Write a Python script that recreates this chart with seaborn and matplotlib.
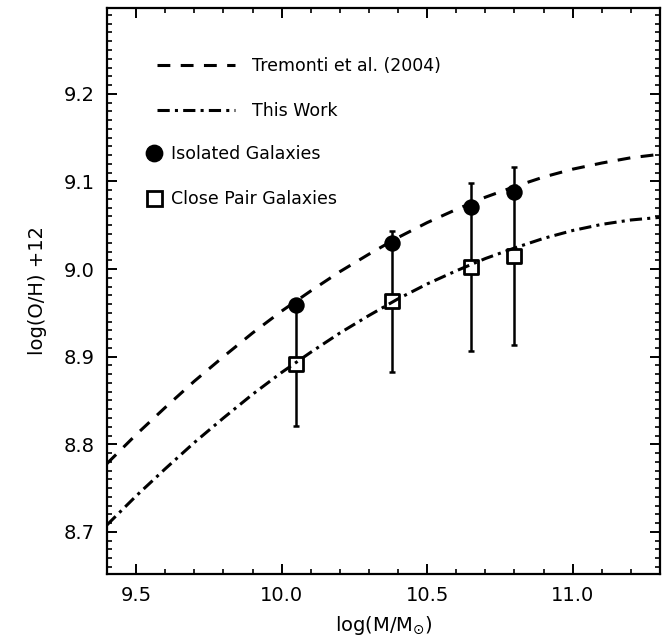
import numpy as np
import pandas as pd
import matplotlib
matplotlib.use("Agg")
import matplotlib.pyplot as plt
import seaborn as sns
from matplotlib.ticker import MultipleLocator, FormatStrFormatter
from matplotlib.lines import Line2D

# ---- data ----
mass_grid = [9.4, 9.5, 9.6, 9.7, 9.8, 9.9, 10.0, 10.1, 10.2, 10.3,
             10.4, 10.5, 10.6, 10.7, 10.8, 10.9, 11.0, 11.1, 11.2, 11.3]
tremonti_oh = [8.778, 8.811, 8.842, 8.872, 8.900, 8.927, 8.952, 8.975, 8.997, 9.017,
               9.036, 9.053, 9.068, 9.082, 9.094, 9.105, 9.114, 9.121, 9.127, 9.131]
thiswork_oh = [8.708, 8.741, 8.772, 8.802, 8.830, 8.857, 8.882, 8.905, 8.927, 8.947,
               8.966, 8.983, 8.998, 9.012, 9.024, 9.035, 9.044, 9.051, 9.056, 9.059]
mass_pts = [10.05, 10.38, 10.65, 10.80]
iso_oh = [8.959, 9.030, 9.071, 9.088]
pair_oh = [8.892, 8.963, 9.002, 9.015]
pair_err = [0.071, 0.080, 0.096, 0.102]

line_labels = ["Tremonti et al. (2004)", "This Work"]
point_labels = ["Isolated Galaxies", "Close Pair Galaxies"]

sns.set_style("ticks")
plt.rcParams["font.family"] = ["DejaVu Sans"]
plt.rcParams["mathtext.fontset"] = "dejavusans"
plt.rcParams["text.color"] = "black"
plt.rcParams["axes.labelcolor"] = "black"
plt.rcParams["xtick.color"] = "black"
plt.rcParams["ytick.color"] = "black"

fig = plt.figure(figsize=(6.62, 6.44), dpi=100)
ax = fig.add_axes([0.1616, 0.1087, 0.8354, 0.879])

curves = pd.DataFrame({"mass": mass_grid, "trem": tremonti_oh, "work": thiswork_oh})
dash_trem = (0, (4.2, 3.4))
dash_work = (0, (4.0, 1.7, 1.0, 1.7))
sns.lineplot(data=curves, x="mass", y="trem", ax=ax, color="black", lw=2.2,
             linestyle=dash_trem, zorder=4)
sns.lineplot(data=curves, x="mass", y="work", ax=ax, color="black", lw=2.2,
             linestyle=dash_work, zorder=4)

ax.errorbar(mass_pts, pair_oh, yerr=pair_err, fmt="none", ecolor="black",
            elinewidth=1.8, capsize=2.0, capthick=1.8, zorder=2)
sns.scatterplot(x=mass_pts, y=pair_oh, ax=ax, marker="s", s=110,
                facecolor="white", edgecolor="black", linewidth=2.0, zorder=3)
sns.scatterplot(x=mass_pts, y=iso_oh, ax=ax, marker="o", s=140,
                color="black", edgecolor="black", linewidth=0, zorder=5)

ax.set_xlim(9.4, 11.3)
ax.set_ylim(8.652, 9.298)
ax.xaxis.set_major_locator(MultipleLocator(0.5))
ax.xaxis.set_minor_locator(MultipleLocator(0.1))
ax.yaxis.set_major_locator(MultipleLocator(0.1))
ax.yaxis.set_minor_locator(MultipleLocator(0.01))
ax.xaxis.set_major_formatter(FormatStrFormatter("%.1f"))
ax.yaxis.set_major_formatter(FormatStrFormatter("%.1f"))

ax.tick_params(which="both", direction="in", top=True, right=True,
               colors="black", labelsize=14)
ax.tick_params(which="major", length=7.5, width=1.4, pad=9)
ax.tick_params(which="minor", length=3.5, width=1.2)
for sp in ax.spines.values():
    sp.set_linewidth(1.6)
    sp.set_color("black")

ax.set_xlabel(r"log(M/M$_{\odot}$)", fontsize=14, labelpad=6, color="black")
ax.set_ylabel("log(O/H) +12", fontsize=14, labelpad=12, color="black")

# legends
lh = [Line2D([], [], color="black", lw=2.2, linestyle=dash_trem),
      Line2D([], [], color="black", lw=2.2, linestyle=dash_work)]
leg1 = ax.legend(lh, line_labels, loc="upper left", bbox_to_anchor=(0.09, 0.913),
                 frameon=False, fontsize=12.5, handlelength=4.5, handletextpad=1.0,
                 labelspacing=1.56, borderpad=0, borderaxespad=0, labelcolor="black")
ax.add_artist(leg1)
ph = [Line2D([], [], color="black", marker="o", markersize=11.8, lw=0),
      Line2D([], [], color="black", marker="s", markersize=10.8, lw=0,
             markerfacecolor="white", markeredgewidth=2.0)]
ax.legend(ph, point_labels, loc="upper left", bbox_to_anchor=(0.07, 0.757),
          frameon=False, fontsize=12.5, handlelength=1.0, handletextpad=0.45,
          labelspacing=1.52, borderpad=0, borderaxespad=0, labelcolor="black")

fig.savefig("out.png", dpi=100)
